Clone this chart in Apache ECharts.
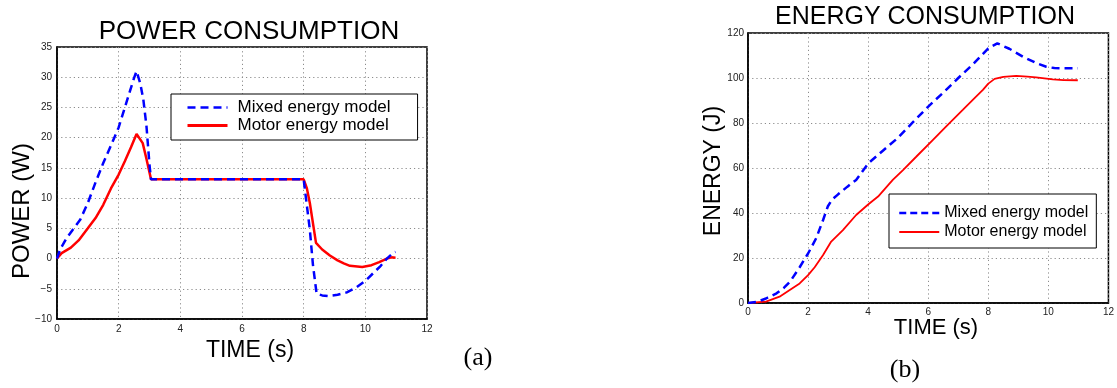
<!DOCTYPE html>
<html>
<head>
<meta charset="utf-8">
<script src="https://cdn.jsdelivr.net/npm/echarts@6/dist/echarts.min.js"></script>
<style>
  html, body { margin: 0; padding: 0; background: #fff; }
  #chart { width: 1117px; height: 388px; }
</style>
</head>
<body>
<div id="chart"></div>
<script>
// ---- data ----
const seriesNames = ['Mixed energy model', 'Motor energy model'];

// power (W) over time (s)
const mixedPowerT = [0, 0.1, 0.3, 0.5, 0.75, 1.0, 1.25, 1.5, 1.75, 2.0, 2.25, 2.5, 2.58, 2.7, 2.8, 2.9, 3.0, 3.05,
  8.0, 8.05, 8.2, 8.3, 8.42, 8.6, 8.8, 9.1, 9.4, 9.7, 10.0, 10.3, 10.5, 10.7, 10.85, 10.98];
const mixedPowerW = [0, 1.5, 3.3, 4.7, 6.4, 9.2, 12.6, 15.8, 18.7, 21.7, 25.8, 29.9, 31.0, 29.0, 26.3, 22.0, 15.5, 13.1,
  13.1, 11.0, 4.8, -1.0, -5.8, -6.1, -6.2, -6.0, -5.6, -4.8, -3.7, -2.2, -1.2, 0.0, 0.7, 1.1];

const motorPowerT = [0, 0.15, 0.45, 0.7, 1.0, 1.25, 1.5, 1.75, 2.0, 2.2, 2.4, 2.58, 2.78, 2.9, 3.05,
  8.0, 8.1, 8.2, 8.4, 8.6, 8.85, 9.1, 9.3, 9.5, 9.9, 10.2, 10.45, 10.7, 10.85, 10.98];
const motorPowerW = [0, 0.9, 1.8, 3.0, 5.0, 6.7, 8.9, 11.6, 13.9, 16.1, 18.4, 20.6, 19.1, 16.5, 13.1,
  13.1, 11.7, 9.2, 2.6, 1.5, 0.5, -0.3, -0.8, -1.2, -1.4, -1.1, -0.6, 0.0, 0.2, 0.15];

// energy (J) over time (s)
const mixedEnergyT = [0, 0.3, 0.6, 0.95, 1.2, 1.4, 1.72, 2.0, 2.27, 2.5, 2.66, 2.8, 3.0, 3.3, 3.6, 4.0, 4.5, 5.0, 5.5,
  6.0, 6.5, 7.0, 7.5, 8.0, 8.3, 8.7, 9.15, 9.6, 9.93, 10.2, 10.5, 10.98];
const mixedEnergyJ = [0, 0.5, 2.0, 4.3, 6.8, 9.5, 15.9, 22.0, 28.8, 36.9, 43.0, 46.0, 48.3, 51.6, 54.7, 62.0, 67.8, 73.5, 80.5,
  87.3, 93.5, 100.0, 106.2, 113.2, 115.4, 113.0, 109.5, 106.6, 105.0, 104.4, 104.3, 104.3];

const motorEnergyT = [0, 0.6, 1.05, 1.39, 1.72, 2.0, 2.22, 2.5, 2.77, 3.16, 3.6, 4.0, 4.33, 4.82, 5.16, 5.6, 6.15,
  6.6, 7.15, 7.5, 7.82, 8.0, 8.21, 8.5, 8.93, 9.3, 9.59, 10.15, 10.5, 10.98];
const motorEnergyJ = [0, 0.6, 2.8, 5.8, 8.7, 12.4, 15.9, 21.3, 27.3, 32.4, 39.1, 43.8, 47.3, 54.7, 59.1, 65.0, 72.4,
  78.5, 85.8, 90.5, 94.7, 97.5, 99.6, 100.5, 100.9, 100.6, 100.3, 99.4, 99.1, 99.0];

// axis ticks
const timeTicks = [0, 2, 4, 6, 8, 10, 12];
const powerTicks = [-10, -5, 0, 5, 10, 15, 20, 25, 30, 35];
const energyTicks = [0, 20, 40, 60, 80, 100, 120];

// ---- helpers ----
const pairs = (xs, ys) => xs.map((x, i) => [x, ys[i]]);
const FONT = '"Liberation Sans", Arial, Helvetica, sans-serif';
const BLUE = '#0000ff';
const RED = '#ff0000';

function valueAxis(ticks, gridIndex, margin) {
  return {
    type: 'value',
    gridIndex: gridIndex,
    min: ticks[0],
    max: ticks[ticks.length - 1],
    interval: ticks[1] - ticks[0],
    axisLine: { show: true, onZero: false, lineStyle: { color: '#000', width: 1.5 } },
    axisTick: { show: false },
    axisLabel: {
      color: '#222',
      fontFamily: FONT,
      fontSize: 10,
      margin: margin,
      formatter: v => String(v).replace('-', '\u2212')
    },
    splitLine: { show: true, lineStyle: { color: '#8c8c8c', width: 1, type: [1.2, 3] } }
  };
}

function lineSeries(name, data, gi, color, width, dashed) {
  return {
    name: name,
    type: 'line',
    xAxisIndex: gi,
    yAxisIndex: gi,
    data: data,
    symbol: 'none',
    showSymbol: false,
    silent: true,
    animation: false,
    lineStyle: { color: color, width: width, type: dashed ? [8, 5] : 'solid' },
    itemStyle: { color: color },
    z: dashed ? 3 : 2
  };
}

function label(text, x, y, size, extra, family) {
  return Object.assign({
    type: 'text',
    x: x,
    y: y,
    style: {
      text: text,
      fill: '#000',
      font: size + 'px ' + (family || FONT),
      textAlign: 'center',
      textVerticalAlign: 'middle'
    },
    silent: true
  }, extra || {});
}

// legend entries draw only the line sample (no marker)
function legendEntry(name, color, width, dash) {
  return {
    name: name,
    itemStyle: { opacity: 0, color: color, borderWidth: 0 },
    lineStyle: { color: color, width: width, type: dash }
  };
}

const SERIF = '"Liberation Serif", "DejaVu Serif", serif';

const chart = echarts.init(document.getElementById('chart'), null, { renderer: 'canvas' });

chart.setOption({
  backgroundColor: '#ffffff',
  animation: false,
  grid: [
    { left: 57, top: 47, width: 370, height: 272, show: true, borderColor: '#000', borderWidth: 1.5, backgroundColor: 'transparent' },
    { left: 748, top: 33, width: 361, height: 270, show: true, borderColor: '#000', borderWidth: 1.5, backgroundColor: 'transparent' }
  ],
  xAxis: [
    valueAxis(timeTicks, 0, 5),
    valueAxis(timeTicks, 1, 4)
  ],
  yAxis: [
    valueAxis(powerTicks, 0, 5),
    valueAxis(energyTicks, 1, 4)
  ],
  legend: [
    {
      left: 171, top: 94,
      orient: 'vertical',
      selectedMode: false,
      backgroundColor: '#fff',
      borderColor: '#000',
      borderWidth: 1,
      padding: [5, 27, 6, 15],
      itemWidth: 40,
      itemHeight: 12,
      itemGap: 1,
      textStyle: { fontFamily: FONT, fontSize: 17, color: '#000', lineHeight: 16, padding: [0, 0, 0, 5] },
      data: [
        legendEntry(seriesNames[0], BLUE, 2.5, [8, 5]),
        legendEntry(seriesNames[1], RED, 3, 'solid')
      ],
      z: 10
    },
    {
      left: 889, top: 194,
      orient: 'vertical',
      selectedMode: false,
      backgroundColor: '#fff',
      borderColor: '#000',
      borderWidth: 1,
      padding: [11, 8, 8, 9],
      itemWidth: 40,
      itemHeight: 12,
      itemGap: 3,
      textStyle: { fontFamily: FONT, fontSize: 16, color: '#000', lineHeight: 16 },
      data: [
        legendEntry(seriesNames[0], BLUE, 2.5, [7, 4]),
        legendEntry(seriesNames[1], RED, 1.8, 'solid')
      ],
      z: 10
    }
  ],
  series: [
    lineSeries(seriesNames[0], pairs(mixedPowerT, mixedPowerW), 0, BLUE, 2.5, true),
    lineSeries(seriesNames[1], pairs(motorPowerT, motorPowerW), 0, RED, 2.5, false),
    lineSeries(seriesNames[0], pairs(mixedEnergyT, mixedEnergyJ), 1, BLUE, 2.5, true),
    lineSeries(seriesNames[1], pairs(motorEnergyT, motorEnergyJ), 1, RED, 1.8, false)
  ],
  graphic: [
    label('POWER CONSUMPTION', 249, 32, 26),
    label('ENERGY CONSUMPTION', 925, 17, 25),
    label('POWER (W)', 22, 211, 24, { rotation: Math.PI / 2 }),
    label('ENERGY (J)', 714, 171, 23, { rotation: Math.PI / 2 }),
    label('TIME (s)', 250, 351, 23),
    label('TIME (s)', 936, 328, 22),
    label('(a)', 478, 358, 26, null, SERIF),
    label('(b)', 905, 370, 26, null, SERIF)
  ]
});
</script>
</body>
</html>
